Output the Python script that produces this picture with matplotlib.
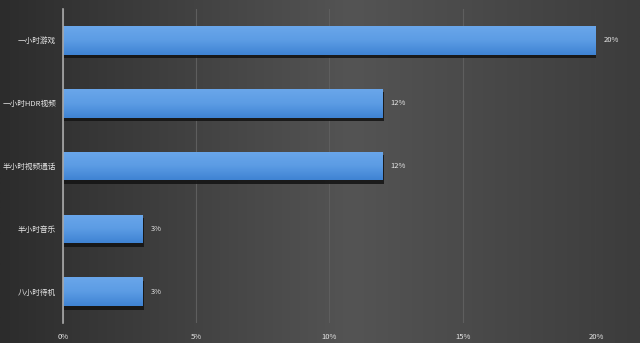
import numpy as np
from matplotlib import pyplot as plt
from matplotlib import patheffects as pe
from matplotlib.colors import LinearSegmentedColormap

plt.rcParams['font.family'] = ['Noto Sans CJK SC', 'DejaVu Sans']

## dados ##
categorias = ['一小时游戏', '一小时HDR视频', '半小时视频通话', '半小时音乐', '八小时待机']
valores = [20, 12, 12, 3, 3]   # %
ticks_x = [0, 5, 10, 15, 20]
rotulos_x = ['0%', '5%', '10%', '15%', '20%']

fig = plt.figure(figsize=(6.4, 3.43), dpi=100)

# fundo com gradiente horizontal
fundo = fig.add_axes([0, 0, 1, 1], zorder=-10)
cmap_fundo = LinearSegmentedColormap.from_list(
    'fundo', [(0, '#2c2c2c'), (0.55, '#545454'), (1, '#3c3c3c')])
fundo.imshow(np.linspace(0, 1, 256).reshape(1, -1), aspect='auto',
             cmap=cmap_fundo, extent=[0, 1, 0, 1])
fundo.axis('off')

ax = fig.add_axes([0.0984, 0.057, 0.8328, 0.918])
ax.patch.set_alpha(0)

y = np.arange(len(categorias))
barras = ax.barh(y, valores, height=0.46, color='#4f93de', zorder=3,
                 path_effects=[pe.SimplePatchShadow(offset=(1, -2.5),
                                                    shadow_rgbFace='#151515',
                                                    alpha=0.9),
                               pe.Normal()])

# gradiente vertical nas barras
cmap_barra = LinearSegmentedColormap.from_list('barra', ['#3f83d3', '#5c9ce4', '#6aa6ea'])
grad = np.linspace(0, 1, 64).reshape(-1, 1)
for b in barras:
    x0, y0 = b.get_x(), b.get_y()
    w, h = b.get_width(), b.get_height()
    im = ax.imshow(grad, aspect='auto', cmap=cmap_barra, origin='upper',
                   extent=[x0, x0 + w, y0, y0 + h], zorder=4)
    im.set_clip_path(b)

for yi, v in zip(y, valores):
    ax.text(v + 0.3, yi, '%d%%' % v, va='center', ha='left',
            color='#e6e6e6', fontsize=5.5)

ax.set_xlim(0, 20)
ax.set_ylim(len(categorias) - 0.5, -0.5)
ax.set_yticks(y)
ax.set_yticklabels(categorias)
ax.set_xticks(ticks_x)
ax.set_xticklabels(rotulos_x)
ax.tick_params(axis='both', length=0, colors='#e6e6e6', labelsize=5.5)
ax.tick_params(axis='y', pad=5)
ax.tick_params(axis='x', pad=7)

ax.grid(True, axis='x', color='#5e5e5e', linewidth=0.8, zorder=0)
for lado in ['top', 'right', 'bottom']:
    ax.spines[lado].set_visible(False)
ax.spines['left'].set_color('#a8a8a8')
ax.spines['left'].set_linewidth(1.2)
ax.spines['left'].set_zorder(5)

plt.savefig('out.png', dpi=100)
